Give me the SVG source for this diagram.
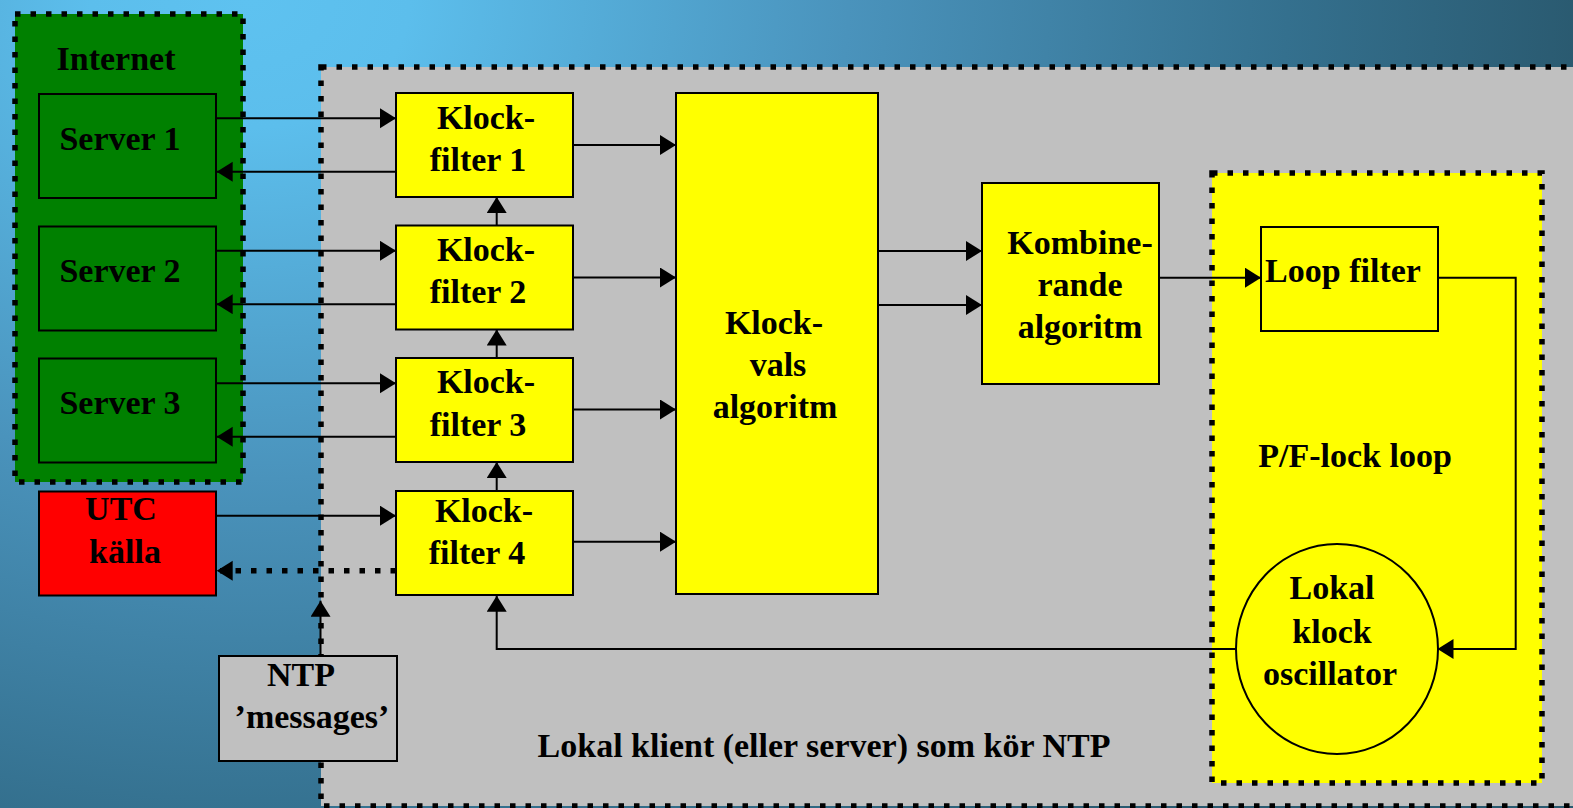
<svg xmlns="http://www.w3.org/2000/svg" width="1573" height="808" viewBox="0 0 1573 808">
<defs>
<radialGradient id="bg" gradientUnits="userSpaceOnUse" cx="250" cy="0" r="1330" gradientTransform="translate(250 0) scale(1 0.8) translate(-250 0)">
<stop offset="0" stop-color="#5ec2f0"/>
<stop offset="0.12" stop-color="#5cbeec"/>
<stop offset="0.45" stop-color="#4a93bc"/>
<stop offset="0.78" stop-color="#34708e"/>
<stop offset="1" stop-color="#2a5a70"/>
</radialGradient>
<marker id="ah" markerUnits="userSpaceOnUse" markerWidth="17" markerHeight="21" refX="16" refY="10" orient="auto">
<path d="M0,0 L16,10 L0,20 z" fill="#000"/>
</marker>
<style>
text{font-family:"Liberation Serif","Times New Roman",serif;font-weight:bold;font-size:34px;fill:#000;text-anchor:middle}
.box{stroke:#000;stroke-width:2}
.yel{fill:#ffff00}
.dot{stroke:#000;stroke-width:5.5;stroke-dasharray:5.5 10}
.ln{fill:none;stroke:#000;stroke-width:2}
.arr{marker-end:url(#ah)}
</style>
</defs>
<rect x="0" y="0" width="1573" height="808" fill="url(#bg)"/>

<g id="lokal-klient">
<rect x="321" y="67" width="1270" height="739" fill="#c0c0c0" class="dot"/>
<text x="824" y="757">Lokal klient (eller server) som kör NTP</text>
</g>

<g id="internet">
<rect x="15" y="14" width="228" height="468" fill="#008000" class="dot"/>
<text x="116" y="70">Internet</text>
</g>

<g id="pf-lock-loop">
<rect x="1212" y="173" width="330" height="610" class="yel dot"/>
<text x="1355" y="467">P/F-lock loop</text>
</g>

<g id="server1">
<rect x="39" y="94" width="177" height="104" fill="#008000" class="box"/>
<text x="120" y="150">Server 1</text>
</g>
<g id="server2">
<rect x="39" y="226.5" width="177" height="104" fill="#008000" class="box"/>
<text x="120" y="282">Server 2</text>
</g>
<g id="server3">
<rect x="39" y="358.5" width="177" height="104" fill="#008000" class="box"/>
<text x="120" y="414">Server 3</text>
</g>
<g id="utc">
<rect x="39" y="491.5" width="177" height="104" fill="#ff0000" class="box"/>
<text x="121" y="520">UTC</text>
<text x="125" y="563">källa</text>
</g>

<g id="klockfilter1">
<rect x="396" y="93" width="177" height="104" class="box yel"/>
<text x="486" y="129">Klock-</text>
<text x="478" y="171">filter 1</text>
</g>
<g id="klockfilter2">
<rect x="396" y="225.5" width="177" height="104" class="box yel"/>
<text x="486" y="261">Klock-</text>
<text x="478" y="303">filter 2</text>
</g>
<g id="klockfilter3">
<rect x="396" y="358" width="177" height="104" class="box yel"/>
<text x="486" y="393">Klock-</text>
<text x="478" y="436">filter 3</text>
</g>
<g id="klockfilter4">
<rect x="396" y="491" width="177" height="104" class="box yel"/>
<text x="484" y="522">Klock-</text>
<text x="477" y="564">filter 4</text>
</g>

<g id="klockvals">
<rect x="676" y="93" width="202" height="501" class="box yel"/>
<text x="774" y="334">Klock-</text>
<text x="778" y="376">vals</text>
<text x="775" y="418">algoritm</text>
</g>

<g id="kombinerande">
<rect x="982" y="183" width="177" height="201" class="box yel"/>
<text x="1080" y="254">Kombine-</text>
<text x="1080" y="296">rande</text>
<text x="1080" y="338">algoritm</text>
</g>

<g id="loop-filter">
<rect x="1261" y="227" width="177" height="104" class="box yel"/>
<text x="1343" y="282">Loop filter</text>
</g>

<g id="oscillator">
<ellipse cx="1337" cy="649" rx="101" ry="105" class="box yel"/>
<text x="1332" y="599">Lokal</text>
<text x="1332" y="643">klock</text>
<text x="1330" y="685">oscillator</text>
</g>

<g id="ntp-messages">
<rect x="219" y="656" width="178" height="105" fill="#c0c0c0" class="box"/>
<text x="301" y="686">NTP</text>
<text x="312" y="728">’messages’</text>
</g>

<g id="connectors">
<line x1="216" y1="118.3" x2="396" y2="118.3" class="ln arr"/>
<line x1="396" y1="171.7" x2="216.7" y2="171.7" class="ln arr"/>
<line x1="216" y1="250.8" x2="396" y2="250.8" class="ln arr"/>
<line x1="396" y1="304.2" x2="216.7" y2="304.2" class="ln arr"/>
<line x1="216" y1="383.3" x2="396" y2="383.3" class="ln arr"/>
<line x1="396" y1="436.7" x2="216.7" y2="436.7" class="ln arr"/>
<line x1="216" y1="515.7" x2="396" y2="515.7" class="ln arr"/>
<line x1="396" y1="570.7" x2="216.7" y2="570.7" class="dot arr"/>
<line x1="496.7" y1="225.5" x2="496.7" y2="197" class="ln arr"/>
<line x1="496.7" y1="358" x2="496.7" y2="329.5" class="ln arr"/>
<line x1="496.7" y1="491" x2="496.7" y2="462" class="ln arr"/>
<line x1="573" y1="145" x2="676" y2="145" class="ln arr"/>
<line x1="573" y1="277.5" x2="676" y2="277.5" class="ln arr"/>
<line x1="573" y1="409.5" x2="676" y2="409.5" class="ln arr"/>
<line x1="573" y1="541.7" x2="676" y2="541.7" class="ln arr"/>
<line x1="878" y1="251" x2="982" y2="251" class="ln arr"/>
<line x1="878" y1="305" x2="982" y2="305" class="ln arr"/>
<line x1="1159" y1="277.7" x2="1261" y2="277.7" class="ln arr"/>
<polyline points="1438,277.7 1515.7,277.7 1515.7,649 1437.5,649" class="ln arr"/>
<polyline points="1236,649 496.7,649 496.7,595.7" class="ln arr"/>
<line x1="320.5" y1="656" x2="320.5" y2="600.7" class="ln arr"/>
</g>
</svg>
